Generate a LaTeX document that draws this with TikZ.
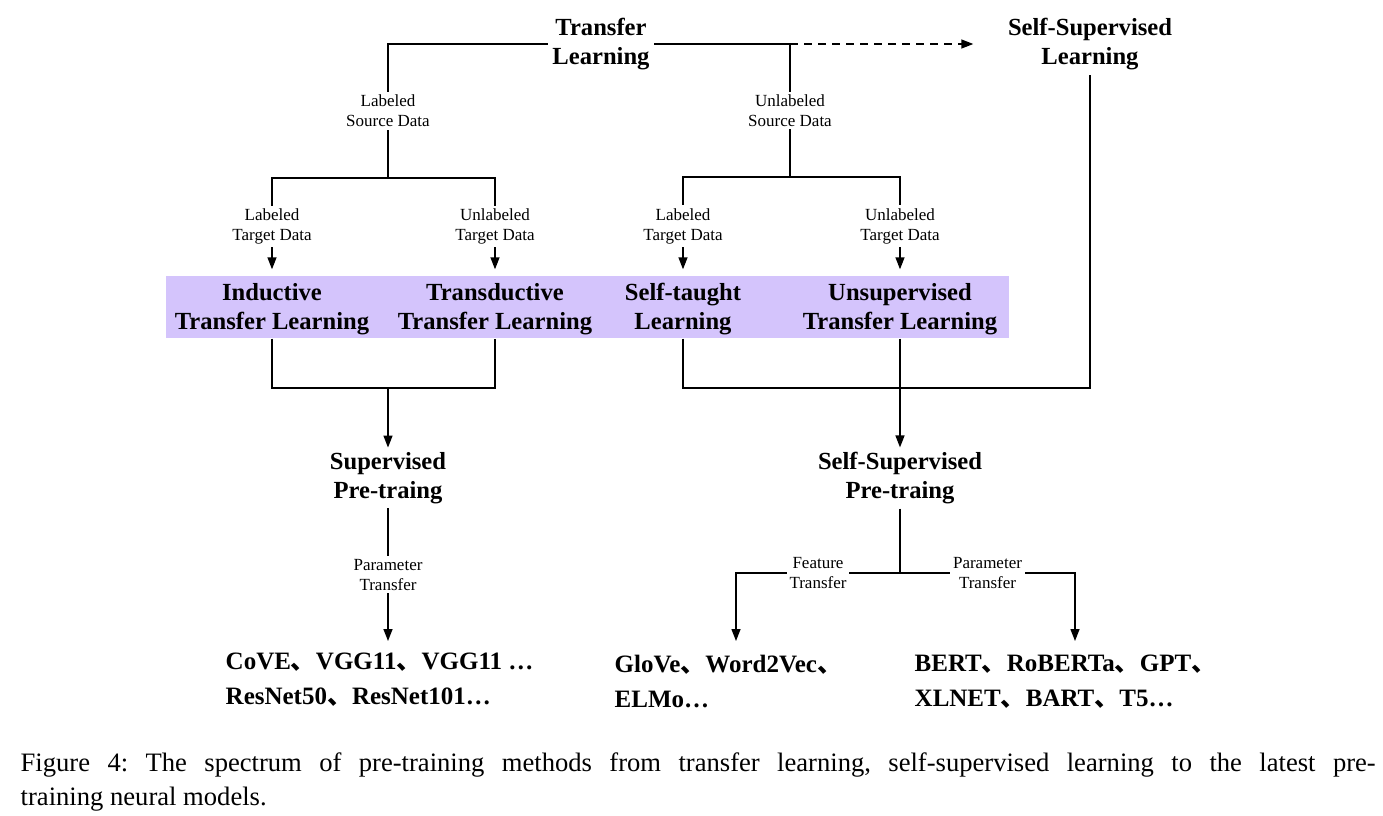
\documentclass[tikz,border=0pt]{standalone}
\usepackage{fontspec}
\setmainfont{Liberation Serif}
\newfontfamily\cjk{Noto Sans CJK SC}
\newcommand\dunhao{{\cjk 、}}
\usetikzlibrary{arrows.meta}
\definecolor{bandcolor}{RGB}{212,196,252}
\frenchspacing
\begin{document}
\begin{tikzpicture}[x=0.5pt,y=-0.5pt,line width=0.7pt,
    >={Triangle[length=6pt,width=4.5pt]},
    head/.style={align=center,inner sep=2pt,
      font=\fontsize{12.3}{14.5}\selectfont\bfseries},
    lbl/.style={align=center,fill=white,inner sep=1.5pt,
      font=\fontsize{8.5}{10}\selectfont},
    model/.style={align=left,anchor=west,inner sep=0pt,
      font=\fontsize{12.5}{17.5}\selectfont\bfseries}]
  \useasboundingbox (0,0) rectangle (1383,815);
  \coordinate (j1) at (388,178);
  \coordinate (j2) at (790,177);
  \coordinate (j3) at (388,388);
  \coordinate (j4) at (1090,388);
  \coordinate (j5) at (900,573);
  \coordinate (e1) at (388,641);
  \coordinate (e2) at (736,641);
  \coordinate (e3) at (1075,641);
  \node[head] (tl) at (601,44) {Transfer\\Learning};
  \node[head] (ssl) at (1090,44) {Self-Supervised\\Learning};
  \node[fill=bandcolor,minimum width=421.5pt,minimum height=31pt,inner sep=0pt]
    (band) at (587.5,307) {};
  \node[head] (itl) at (272,309) {Inductive\\Transfer Learning};
  \node[head] (ttl) at (495,309) {Transductive\\Transfer Learning};
  \node[head] (stl) at (683,309) {Self-taught\\Learning};
  \node[head] (utl) at (900,309) {Unsupervised\\Transfer Learning};
  \node[head] (sp) at (388,478) {Supervised\\Pre-traing};
  \node[head] (ssp) at (900,478) {Self-Supervised\\Pre-traing};
  \node[model] (out1) at (225,680) {CoVE\dunhao VGG11\dunhao VGG11 …\\ResNet50\dunhao ResNet101…};
  \node[model] (out2) at (614,681) {GloVe\dunhao Word2Vec\dunhao\\ELMo…};
  \node[model] (out3) at (914,682) {BERT\dunhao RoBERTa\dunhao GPT\dunhao\\XLNET\dunhao BART\dunhao T5…};
  % source / target data
  \draw (tl.west) -| node (lsd)[pos=.75,lbl]{Labeled\\Source Data} (j1);
  \draw (tl.east) -| node (usd)[pos=.75,lbl]{Unlabeled\\Source Data} (j2);
  \draw[->,dash pattern=on 4pt off 3pt,shorten >=15pt] (j2 |- tl.east) -- (ssl.west);
  \draw[->,shorten >=3pt] (j1) -| node (ltda)[pos=.75,lbl]{Labeled\\Target Data} (itl |- band.north);
  \draw[->,shorten >=3pt] (j1) -| node (utda)[pos=.75,lbl]{Unlabeled\\Target Data} (ttl |- band.north);
  \draw[->,shorten >=3pt] (j2) -| node (ltdb)[pos=.75,lbl]{Labeled\\Target Data} (stl |- band.north);
  \draw[->,shorten >=3pt] (j2) -| node (utdb)[pos=.75,lbl]{Unlabeled\\Target Data} (utl |- band.north);
  % pre-training
  \draw (itl |- band.south) |- (j3) -| (ttl |- band.south);
  \draw[->] (j3) -- (sp);
  \draw (stl |- band.south) |- (j4) -- (ssl);
  \draw[->] (utl |- band.south) -- (ssp);
  % models
  \draw[->] (sp) -- node (pta)[lbl]{Parameter\\Transfer} (e1);
  \draw (ssp) -- (j5);
  \draw[->] (j5) -| node (ft)[pos=.25,lbl]{Feature\\Transfer} (e2);
  \draw[->] (j5) -| node (ptb)[pos=.25,lbl]{Parameter\\Transfer} (e3);
  \node[anchor=north west,text width=677.5pt,align=justify,inner sep=0pt,
    font=\fontsize{13.3}{17}\selectfont] (cap) at (20,752)
    {Figure 4: The spectrum of pre-training methods from transfer learning, self-supervised learning to the latest pre-\linebreak training neural models.};
\end{tikzpicture}
\end{document}
